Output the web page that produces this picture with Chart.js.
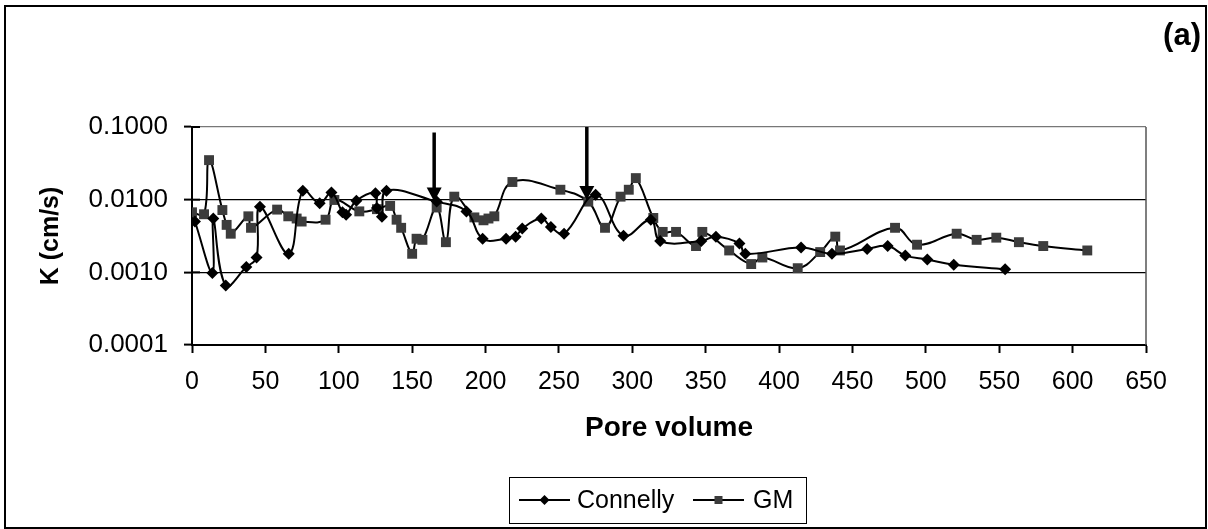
<!DOCTYPE html>
<html>
<head>
<meta charset="utf-8">
<script src="https://cdn.jsdelivr.net/npm/chart.js@4/dist/chart.umd.min.js"></script>
<style>
  body { margin: 0; background: #fff; }
  #wrap { position: relative; width: 1208px; height: 529px; }
  #frame { position: absolute; left: 4px; top: 5px; width: 1199px; height: 520px; border: 2px solid #000; pointer-events: none; }
  #tag { position: absolute; right: 7px; top: 19px; font: bold 31px "Liberation Sans", Arial, sans-serif; line-height: 1; }
</style>
</head>
<body>
<div id="wrap">
  <canvas id="chart"></canvas>
  <div id="frame"></div>
  <div id="tag">(a)</div>
</div>
<script>
// pore volume / K values
const connellyX = [2, 13.9, 14.5, 23, 37, 44, 46.3, 65.9, 75.5, 87, 95, 102.5, 105, 112, 125, 126, 129.4, 132.5,
  166.7, 187, 198, 214, 220.5, 225, 238, 244.5, 253.5, 275, 294, 312.6, 319, 347, 357, 373, 377, 415, 436,
  460, 474, 486, 501, 519, 554];
const connellyK = [0.0050, 0.00098, 0.0055, 0.00066, 0.00118, 0.0016, 0.0080, 0.0018, 0.0133, 0.0089, 0.0125,
  0.0067, 0.0062, 0.0097, 0.0123, 0.0077, 0.0058, 0.0133, 0.0094, 0.0069, 0.0029, 0.0029, 0.0031, 0.0040,
  0.0055, 0.0042, 0.0034, 0.0117, 0.0032, 0.0053, 0.0027, 0.0027, 0.0031, 0.0025, 0.0018, 0.0022, 0.0018,
  0.0021, 0.0023, 0.0017, 0.0015, 0.00127, 0.0011];

const gmX = [0, 8.2, 11.6, 20.7, 23.6, 26.4, 38.4, 40.2, 58, 65.6, 71.3, 74.7, 91, 97, 114, 126, 135, 139.4,
  142.5, 150, 153, 157, 166.7, 173, 178.7, 192.4, 198.6, 202, 206, 218.3, 251, 270, 281.4, 292, 297.6, 302.4,
  314.3, 320.7, 329.8, 343.4, 347.7, 366, 381, 388.6, 412.7, 428, 438.3, 441.5, 479, 494, 521, 534.6, 548,
  563.4, 580, 610];
const gmK = [0.0067, 0.0063, 0.035, 0.0072, 0.0045, 0.0034, 0.0059, 0.0041, 0.0073, 0.0059, 0.0055, 0.0050,
  0.0053, 0.0099, 0.0069, 0.0074, 0.0082, 0.0053, 0.0041, 0.0018, 0.0029, 0.0028, 0.0078, 0.0026, 0.011,
  0.0057, 0.0052, 0.0055, 0.0059, 0.0175, 0.0137, 0.0094, 0.0041, 0.011, 0.0137, 0.0198, 0.0056, 0.0036,
  0.0036, 0.0023, 0.0036, 0.0020, 0.0013, 0.0016, 0.00114, 0.0019, 0.0031, 0.0020, 0.0041, 0.0024, 0.0034,
  0.0028, 0.0030, 0.0026, 0.0023, 0.0020];

const yTicks = [0.0001, 0.001, 0.01, 0.1];

// the two arrows: pore volume, where the shaft starts, where the tip is
const arrowX = [165, 269];
const arrowFrom = [0.084, 0.1];
const arrowTo = [0.0094, 0.0099];

const FONT = '"Liberation Sans", Arial, sans-serif';

function pts(xs, ys) {
  return xs.map((x, i) => ({ x: x, y: ys[i] }));
}

const extras = {
  id: 'extras',
  afterDatasetsDraw(chart) {
    const ctx = chart.ctx;
    const xs = chart.scales.x, ys = chart.scales.y;
    const area = chart.chartArea;
    ctx.save();
    // plot area border right side
    ctx.strokeStyle = '#555';
    ctx.lineWidth = 1.5;
    ctx.beginPath();
    ctx.moveTo(area.right, area.top);
    ctx.lineTo(area.right, area.bottom);
    ctx.stroke();
    // y ticks also poke into the plot
    ctx.strokeStyle = '#000';
    ctx.lineWidth = 2;
    yTicks.forEach(v => {
      const py = ys.getPixelForValue(v);
      ctx.beginPath();
      ctx.moveTo(area.left, py);
      ctx.lineTo(area.left + 8, py);
      ctx.stroke();
    });
    // arrows
    ctx.fillStyle = '#000';
    arrowX.forEach((ax, i) => {
      const px = xs.getPixelForValue(ax);
      const y0 = ys.getPixelForValue(arrowFrom[i]);
      const y1 = ys.getPixelForValue(arrowTo[i]);
      ctx.lineWidth = 3.5;
      ctx.beginPath();
      ctx.moveTo(px, y0);
      ctx.lineTo(px, y1 - 12);
      ctx.stroke();
      ctx.beginPath();
      ctx.moveTo(px - 7.5, y1 - 14);
      ctx.lineTo(px + 7.5, y1 - 14);
      ctx.lineTo(px, y1);
      ctx.closePath();
      ctx.fill();
    });
    ctx.restore();
  },
  afterDraw(chart) {
    // boxed legend under the axis title
    const ctx = chart.ctx;
    ctx.save();
    ctx.strokeStyle = '#000';
    ctx.lineWidth = 1;
    ctx.strokeRect(509.5, 477.5, 297, 46);
    ctx.font = '25px ' + FONT;
    ctx.textBaseline = 'middle';
    ctx.fillStyle = '#000';
    const cy = 500;
    const items = [{ x: 519, t: 577 }, { x: 693, t: 753 }];
    chart.data.datasets.forEach((ds, i) => {
      const it = items[i];
      ctx.strokeStyle = '#000';
      ctx.lineWidth = 2;
      ctx.beginPath();
      ctx.moveTo(it.x, cy);
      ctx.lineTo(it.x + 51, cy);
      ctx.stroke();
      ctx.fillStyle = ds.pointBackgroundColor;
      ctx.beginPath();
      if (ds.pointStyle === 'rectRot') {
        const m = it.x + 25.5;
        ctx.moveTo(m - 5, cy); ctx.lineTo(m, cy - 5); ctx.lineTo(m + 5, cy); ctx.lineTo(m, cy + 5);
        ctx.closePath();
      } else {
        ctx.rect(it.x + 25.5 - 4, cy - 4, 8, 8);
      }
      ctx.fill();
      ctx.fillStyle = '#000';
      ctx.fillText(ds.label, it.t, cy + 1);
    });
    ctx.restore();
  }
};

new Chart(document.getElementById('chart'), {
  type: 'line',
  data: {
    datasets: [
      {
        label: 'Connelly',
        data: pts(connellyX, connellyK),
        borderColor: '#000',
        borderWidth: 2,
        pointStyle: 'rectRot',
        pointRadius: 6,
        pointBackgroundColor: '#000',
        pointBorderWidth: 0,
        tension: 0.4,
        fill: false
      },
      {
        label: 'GM',
        data: pts(gmX, gmK),
        borderColor: '#000',
        borderWidth: 2,
        pointStyle: 'rect',
        pointRadius: 7,
        pointBackgroundColor: '#3c3c3c',
        pointBorderWidth: 0,
        tension: 0.4,
        fill: false
      }
    ]
  },
  options: {
    responsive: true,
    maintainAspectRatio: false,
    animation: false,
    layout: { padding: { left: 0, top: 127, right: 62, bottom: 84 } },
    plugins: {
      legend: { display: false },
      tooltip: { enabled: false }
    },
    scales: {
      x: {
        type: 'linear',
        min: 0,
        max: 650,
        ticks: { stepSize: 50, color: '#000', padding: 14, font: { family: FONT, size: 25 } },
        grid: { drawOnChartArea: false, drawTicks: true, tickLength: 8, tickWidth: 2, tickColor: '#000' },
        border: { color: '#000', width: 2 },
        title: { display: true, text: 'Pore volume', color: '#000', padding: { top: 0, bottom: 0 },
          font: { family: FONT, size: 28, weight: 'bold' } },
        afterFit(scale) { scale.height = 100; }
      },
      y: {
        type: 'logarithmic',
        min: 0.0001,
        max: 0.1,
        afterBuildTicks(scale) { scale.ticks = yTicks.map(v => ({ value: v })); },
        ticks: {
          color: '#000',
          padding: 16,
          font: { family: FONT, size: 26 },
          callback: v => Number(v).toFixed(4)
        },
        grid: {
          color: c => (c.tick && c.tick.value === 0.1 ? '#777' : '#000'),
          lineWidth: 1.2,
          tickLength: 8,
          tickWidth: 2,
          tickColor: '#000'
        },
        border: { color: '#000', width: 2 },
        title: { display: true, text: 'K (cm/s)', color: '#000', padding: { top: 36, bottom: 0 },
          font: { family: FONT, size: 25, weight: 'bold' } },
        afterFit(scale) { scale.width = 192; }
      }
    }
  },
  plugins: [extras]
});
</script>
</body>
</html>
